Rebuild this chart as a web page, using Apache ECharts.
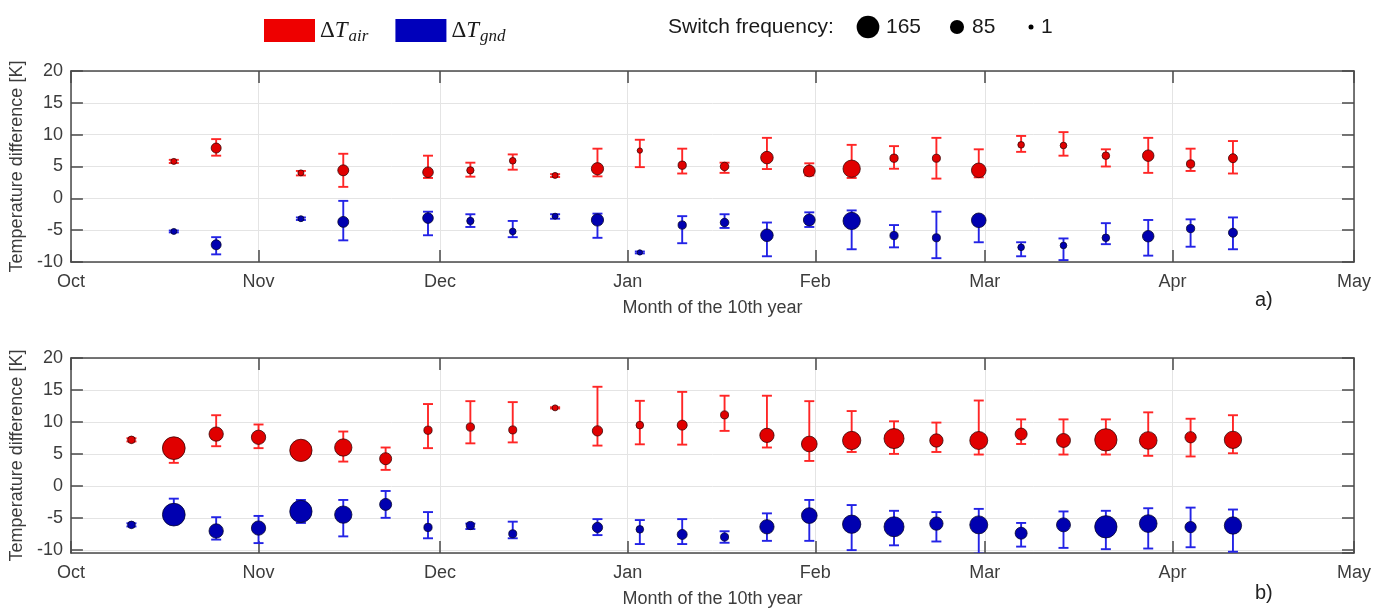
<!DOCTYPE html>
<html>
<head>
<meta charset="utf-8">
<script src="https://cdn.jsdelivr.net/npm/echarts@6/dist/echarts.min.js"></script>
<style>
  html, body { margin: 0; padding: 0; background: #ffffff; }
  #chart { width: 1388px; height: 609px; }
</style>
</head>
<body>
<div id="chart"></div>
<script>
// ---- Panel a): weekly mean temperature differences with min/max ranges ----
const weeksA = ['2018-10-18','2018-10-25','2018-11-08','2018-11-15','2018-11-29','2018-12-06','2018-12-13','2018-12-20','2018-12-27','2019-01-03','2019-01-10','2019-01-17','2019-01-24','2019-01-31','2019-02-07','2019-02-14','2019-02-21','2019-02-28','2019-03-07','2019-03-14','2019-03-21','2019-03-28','2019-04-04','2019-04-11'];
const freqA   = [10, 47, 10, 56, 53, 22, 16, 10, 68, 4, 31, 34, 71, 64, 115, 31, 29, 90, 16, 16, 25, 61, 31, 38];
const airA    = [5.8, 7.9, 4.0, 4.4, 4.1, 4.4, 5.9, 3.6, 4.65, 7.5, 5.2, 5.0, 6.4, 4.3, 4.65, 6.3, 6.3, 4.4, 8.4, 8.3, 6.7, 6.7, 5.4, 6.3];
const airLoA  = [5.55, 6.7, 3.6, 1.8, 3.2, 3.4, 4.5, 3.35, 3.45, 4.9, 3.9, 4.0, 4.6, 3.6, 3.2, 4.65, 3.1, 3.3, 7.3, 6.7, 5.0, 4.0, 4.3, 3.9];
const airHiA  = [6.05, 9.3, 4.3, 7.0, 6.7, 5.6, 6.9, 3.8, 7.8, 9.2, 7.8, 5.6, 9.5, 5.5, 8.4, 8.2, 9.5, 7.7, 9.8, 10.4, 7.7, 9.5, 7.8, 9.0];
const gndA    = [-5.2, -7.3, -3.2, -3.7, -3.1, -3.55, -5.2, -2.8, -3.4, -8.5, -4.2, -3.8, -5.8, -3.4, -3.55, -5.85, -6.2, -3.45, -7.7, -7.4, -6.2, -5.95, -4.75, -5.4];
const gndLoA  = [-5.35, -8.8, -3.4, -6.6, -5.8, -4.5, -6.1, -3.2, -6.2, -8.65, -7.05, -4.65, -9.1, -4.5, -8.0, -7.7, -9.4, -6.9, -9.1, -9.7, -7.2, -9.0, -7.6, -8.0];
const gndHiA  = [-5.05, -6.1, -3.0, -0.4, -2.1, -2.5, -3.55, -2.5, -2.4, -8.35, -2.8, -2.5, -3.8, -2.2, -1.9, -4.2, -2.1, -2.8, -6.9, -6.3, -3.9, -3.4, -3.3, -3.0];

// ---- Panel b) ----
const weeksB = ['2018-10-11','2018-10-18','2018-10-25','2018-11-01','2018-11-08','2018-11-15','2018-11-22','2018-11-29','2018-12-06','2018-12-13','2018-12-20','2018-12-27','2019-01-03','2019-01-10','2019-01-17','2019-01-24','2019-01-31','2019-02-07','2019-02-14','2019-02-21','2019-02-28','2019-03-07','2019-03-14','2019-03-21','2019-03-28','2019-04-04','2019-04-11'];
const freqB   = [25, 165, 87, 87, 161, 115, 66, 31, 31, 29, 10, 50, 25, 47, 29, 87, 100, 124, 140, 78, 121, 66, 84, 161, 118, 59, 115];
const airB    = [7.2, 5.9, 8.1, 7.6, 5.55, 6.0, 4.25, 8.7, 9.2, 8.75, 12.2, 8.6, 9.5, 9.5, 11.1, 7.9, 6.55, 7.1, 7.4, 7.1, 7.1, 8.1, 7.1, 7.2, 7.1, 7.6, 7.2];
const airLoB  = [6.95, 3.6, 6.2, 5.9, 4.6, 3.8, 2.5, 5.9, 6.65, 6.8, 12.1, 6.3, 6.5, 6.45, 8.6, 6.0, 3.9, 5.3, 5.0, 5.3, 4.9, 6.55, 4.9, 4.9, 4.7, 4.6, 5.1];
const airHiB  = [7.45, 6.8, 11.05, 9.6, 6.5, 8.5, 6.0, 12.8, 13.25, 13.1, 12.3, 15.5, 13.3, 14.7, 14.1, 14.1, 13.25, 11.7, 10.1, 9.9, 13.35, 10.4, 10.4, 10.4, 11.5, 10.5, 11.05];
const gndB    = [-6.1, -4.5, -7.05, -6.6, -4.0, -4.5, -2.9, -6.5, -6.2, -7.5, null, -6.5, -6.8, -7.6, -8.0, -6.4, -4.65, -6.0, -6.4, -5.9, -6.1, -7.4, -6.1, -6.4, -5.9, -6.45, -6.2];
const gndLoB  = [-6.35, -5.3, -8.4, -8.95, -5.8, -7.9, -5.0, -8.2, -6.75, -8.2, null, -7.7, -9.1, -9.1, -8.9, -8.6, -8.6, -10.05, -9.3, -8.7, -10.6, -9.5, -9.7, -9.9, -9.8, -9.6, -10.3];
const gndHiB  = [-5.85, -2.0, -4.9, -4.7, -2.2, -2.2, -0.8, -4.1, -5.9, -5.6, null, -5.2, -5.35, -5.2, -7.1, -4.3, -2.2, -3.0, -3.9, -4.1, -3.6, -5.8, -4.0, -3.9, -3.5, -3.4, -3.7];

// Reference sizes shown in the switch-frequency key
const sizeKeys = [165, 85, 1];

const X_MIN = '2018-10-01';
const X_MAX = '2019-05-01';

const NAME_AIR = 'ΔT_air';
const NAME_GND = 'ΔT_gnd';

const FONT = '"Liberation Sans", Arial, Helvetica, sans-serif';
const AXIS_COLOR = '#4a4a4a';
const TEXT_COLOR = '#3c3c3c';
const GRID_COLOR = '#e4e4e4';

const RED_FILL = '#e00000', RED_EDGE = '#3a0505', RED_BAR = '#ff2626';
const BLUE_FILL = '#0000b0', BLUE_EDGE = '#05052e', BLUE_BAR = '#2323e6';

// marker diameter grows linearly with switch frequency
const markerSize = f => 5 + (f - 1) * 0.108;

function points(weeks, vals, freq) {
  const out = [];
  weeks.forEach((d, i) => { if (vals[i] != null) out.push([d, vals[i], freq[i]]); });
  return out;
}
function ranges(weeks, lo, hi) {
  const out = [];
  weeks.forEach((d, i) => { if (lo[i] != null) out.push([d, lo[i], hi[i]]); });
  return out;
}

// vertical whisker with end caps, positioned through the axis scales
function errorBars(color) {
  return function (params, api) {
    const x = api.value(0);
    const lo = api.coord([x, api.value(1)]);
    const hi = api.coord([x, api.value(2)]);
    const w = 5;
    const style = { stroke: color, lineWidth: 1.9 };
    return {
      type: 'group',
      children: [
        { type: 'line', shape: { x1: lo[0], y1: lo[1], x2: hi[0], y2: hi[1] }, style },
        { type: 'line', shape: { x1: lo[0] - w, y1: lo[1], x2: lo[0] + w, y2: lo[1] }, style },
        { type: 'line', shape: { x1: hi[0] - w, y1: hi[1], x2: hi[0] + w, y2: hi[1] }, style }
      ]
    };
  };
}

function xAxes(gridIndex) {
  const common = {
    gridIndex, type: 'time', min: X_MIN, max: X_MAX, splitNumber: 8,
    axisLine: { show: true, onZero: false, lineStyle: { color: AXIS_COLOR, width: 1.5 } },
    axisTick: { show: true, inside: true, length: 12, lineStyle: { color: AXIS_COLOR, width: 1.5 } }
  };
  return [
    Object.assign({}, common, {
      position: 'bottom',
      axisLabel: { formatter: '{MMM}', color: TEXT_COLOR, fontSize: 18, fontFamily: FONT, margin: 11 },
      splitLine: { show: true, lineStyle: { color: GRID_COLOR, width: 1 } },
      name: 'Month of the 10th year', nameLocation: 'middle', nameGap: 37,
      nameTextStyle: { color: TEXT_COLOR, fontSize: 18, fontFamily: FONT }
    }),
    Object.assign({}, common, {
      position: 'top', axisLabel: { show: false }, splitLine: { show: false }
    })
  ];
}

function yAxes(gridIndex, min) {
  const common = {
    gridIndex, type: 'value', min, max: 20,
    axisLine: { show: true, onZero: false, lineStyle: { color: AXIS_COLOR, width: 1.5 } },
    axisTick: { show: true, inside: true, length: 12, lineStyle: { color: AXIS_COLOR, width: 1.5 } }
  };
  if (min % 5 === 0) common.interval = 5; else common.splitNumber = 6;
  return [
    Object.assign({}, common, {
      position: 'left',
      axisLabel: { color: TEXT_COLOR, fontSize: 18, fontFamily: FONT, margin: 8, showMinLabel: min % 5 === 0,
        formatter: v => (v % 5 === 0 ? String(v) : '') },
      splitLine: { show: true, lineStyle: { color: GRID_COLOR, width: 1 } },
      name: 'Temperature difference [K]', nameLocation: 'middle', nameGap: 41,
      nameTextStyle: { color: TEXT_COLOR, fontSize: 18, fontFamily: FONT }
    }),
    Object.assign({}, common, {
      position: 'right', axisLabel: { show: false }, splitLine: { show: false }
    })
  ];
}

function panelSeries(xi, yi, weeks, freq, air, airLo, airHi, gnd, gndLo, gndHi) {
  const scatterBase = {
    type: 'scatter', xAxisIndex: xi, yAxisIndex: yi,
    symbolSize: v => markerSize(v[2]), z: 3
  };
  return [
    { type: 'custom', name: NAME_AIR, xAxisIndex: xi, yAxisIndex: yi, clip: true, z: 2,
      renderItem: errorBars(RED_BAR), encode: { x: 0, y: [1, 2] }, data: ranges(weeks, airLo, airHi) },
    Object.assign({}, scatterBase, { name: NAME_AIR, data: points(weeks, air, freq),
      itemStyle: { color: RED_FILL, borderColor: RED_EDGE, borderWidth: 0.8, opacity: 1 } }),
    { type: 'custom', name: NAME_GND, xAxisIndex: xi, yAxisIndex: yi, clip: true, z: 2,
      renderItem: errorBars(BLUE_BAR), encode: { x: 0, y: [1, 2] }, data: ranges(weeks, gndLo, gndHi) },
    Object.assign({}, scatterBase, { name: NAME_GND, data: points(weeks, gnd, freq),
      itemStyle: { color: BLUE_FILL, borderColor: BLUE_EDGE, borderWidth: 0.8, opacity: 1 } })
  ];
}

const legendRich = {
  d: { fontFamily: '"Liberation Serif", "DejaVu Serif", serif', fontSize: 23, color: '#1a1a1a' },
  t: { fontFamily: '"Liberation Serif", "DejaVu Serif", serif', fontStyle: 'italic', fontSize: 23, color: '#1a1a1a' },
  s: { fontFamily: '"Liberation Serif", "DejaVu Serif", serif', fontStyle: 'italic', fontSize: 17, color: '#1a1a1a',
       padding: [12, 0, 0, 1] }
};

// size key next to the colour legend
const keyX = [868, 957, 1031];
const keyLabelX = [886, 972, 1041];
const sizeKeyGraphics = [];
sizeKeys.forEach((f, i) => {
  sizeKeyGraphics.push({ type: 'circle', shape: { cx: keyX[i], cy: 27, r: markerSize(f) / 2 }, style: { fill: '#000' } });
  sizeKeyGraphics.push({ type: 'text', x: keyLabelX[i], y: 27,
    style: { text: String(f), font: '21px ' + FONT, fill: '#1a1a1a', verticalAlign: 'middle', align: 'left' } });
});

const chart = echarts.init(document.getElementById('chart'), null, { renderer: 'canvas' });
chart.setOption({
  backgroundColor: '#ffffff',
  animation: false,
  grid: [
    { left: 70, right: 34, top: 71, height: 191 },
    { left: 70, right: 34, top: 358, height: 195 }
  ],
  legend: {
    left: 259, top: 14, itemWidth: 51, itemHeight: 23, itemGap: 27,
    data: [
      { name: NAME_AIR, icon: 'rect', itemStyle: { color: '#ee0000', borderWidth: 0 } },
      { name: NAME_GND, icon: 'rect', itemStyle: { color: '#0000bb', borderWidth: 0 } }
    ],
    formatter: name => (name === NAME_AIR ? '{d|Δ}{t|T}{s|air}' : '{d|Δ}{t|T}{s|gnd}'),
    textStyle: { rich: legendRich }
  },
  xAxis: [...xAxes(0), ...xAxes(1)],
  yAxis: [...yAxes(0, -10), ...yAxes(1, -10.5)],
  series: [
    ...panelSeries(0, 0, weeksA, freqA, airA, airLoA, airHiA, gndA, gndLoA, gndHiA),
    ...panelSeries(2, 2, weeksB, freqB, airB, airLoB, airHiB, gndB, gndLoB, gndHiB)
  ],
  graphic: [
    { type: 'text', x: 668, y: 27,
      style: { text: 'Switch frequency:', font: '21px ' + FONT, fill: '#1a1a1a', verticalAlign: 'middle', align: 'left' } },
    ...sizeKeyGraphics,
    { type: 'text', x: 1255, y: 300,
      style: { text: 'a)', font: '20px ' + FONT, fill: '#222', verticalAlign: 'middle', align: 'left' } },
    { type: 'text', x: 1255, y: 593,
      style: { text: 'b)', font: '20px ' + FONT, fill: '#222', verticalAlign: 'middle', align: 'left' } }
  ]
});
</script>
</body>
</html>
